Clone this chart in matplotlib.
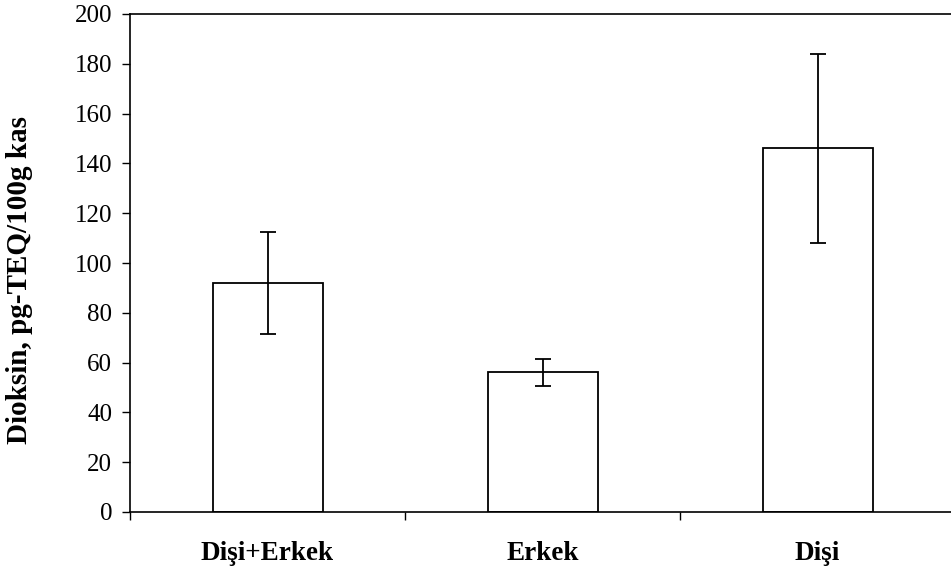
import matplotlib.pyplot as plt

# Veriler
gruplar = ['Dişi+Erkek', 'Erkek', 'Dişi']
ortalama = [92.0, 56.2, 146.0]
hata = [20.5, 5.4, 38.0]
y_ticks = [0, 20, 40, 60, 80, 100, 120, 140, 160, 180, 200]

plt.rcParams['font.family'] = ['Liberation Serif', 'DejaVu Serif']

fig = plt.figure(figsize=(9.51, 5.73), dpi=100)
ax = fig.add_axes([130 / 951, 61 / 573, 825 / 951, 498 / 573])

x = range(len(gruplar))
ax.bar(x, ortalama, width=0.4, color='white', edgecolor='black', linewidth=1.3,
       yerr=hata, capsize=5.8, error_kw={'elinewidth': 1.3, 'capthick': 1.3, 'ecolor': 'black'})

ax.set_xlim(-0.5, 2.5)
ax.set_ylim(0, 200)
ax.set_yticks(y_ticks)
ax.set_xticks(list(x))
ax.set_xticklabels(gruplar, fontsize=19.5, fontweight='bold')
ax.set_xticks([-0.5, 0.5, 1.5], minor=True)
ax.tick_params(axis='x', which='major', length=0, pad=21)
ax.tick_params(axis='x', which='minor', direction='out', length=5.8, width=1)
ax.tick_params(axis='y', direction='out', length=5.8, width=1, labelsize=18, pad=7)
ax.set_ylabel('Dioksin, pg-TEQ/100g kas', fontsize=21, fontweight='bold')
ax.yaxis.set_label_coords(-0.118, 0.466)
ax.spines['right'].set_visible(False)

for s in ax.spines.values():
    s.set_linewidth(1.2)

fig.savefig('out.png', dpi=100)
